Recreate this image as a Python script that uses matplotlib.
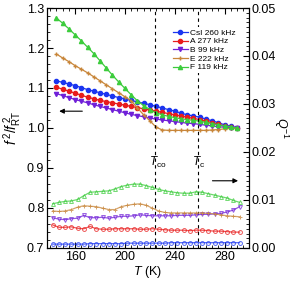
import matplotlib
matplotlib.use('Agg')
import matplotlib.pyplot as plt
from matplotlib.ticker import MultipleLocator, FormatStrFormatter

plt.rcParams['font.family'] = ['Liberation Sans', 'DejaVu Sans']
plt.rcParams['mathtext.fontset'] = 'custom'
plt.rcParams['mathtext.rm'] = 'Liberation Sans'
plt.rcParams['mathtext.it'] = 'Liberation Sans:italic'

# temperatures (K)
T_up = list(range(145, 291, 5))
T_lo = list(range(142, 293, 5))

# f^2/f_RT^2 (left axis)
ff_csi = [1.118, 1.114, 1.110, 1.106, 1.101, 1.096, 1.092, 1.088, 1.084, 1.080,
          1.076, 1.073, 1.069, 1.065, 1.062, 1.058, 1.054, 1.050, 1.046, 1.042,
          1.037, 1.033, 1.030, 1.027, 1.022, 1.018, 1.013, 1.008, 1.004, 1.001]
ff_a = [1.102, 1.097, 1.092, 1.087, 1.082, 1.077, 1.073, 1.069, 1.066, 1.063,
        1.060, 1.057, 1.054, 1.051, 1.048, 1.045, 1.042, 1.039, 1.036, 1.033,
        1.030, 1.027, 1.024, 1.021, 1.017, 1.013, 1.009, 1.005, 1.002, 1.000]
ff_b = [1.086, 1.081, 1.076, 1.071, 1.067, 1.063, 1.058, 1.054, 1.050, 1.046,
        1.042, 1.038, 1.034, 1.031, 1.028, 1.025, 1.022, 1.020, 1.018, 1.016,
        1.014, 1.012, 1.011, 1.009, 1.007, 1.005, 1.003, 1.002, 1.001, 1.000]
ff_e = [1.185, 1.175, 1.166, 1.156, 1.147, 1.138, 1.128, 1.118, 1.108, 1.098,
        1.088, 1.078, 1.068, 1.050, 1.033, 1.018, 1.002, 0.995, 0.994, 0.994,
        0.994, 0.994, 0.994, 0.994, 0.994, 0.995, 0.996, 0.998, 0.999, 1.000]
ff_f = [1.275, 1.262, 1.248, 1.233, 1.218, 1.202, 1.186, 1.168, 1.150, 1.132,
        1.115, 1.099, 1.083, 1.068, 1.056, 1.046, 1.038, 1.033, 1.029, 1.026,
        1.023, 1.021, 1.019, 1.017, 1.014, 1.011, 1.008, 1.005, 1.003, 1.000]

# Q^-1 (right axis)
q_csi = [0.0008, 0.0008, 0.0008, 0.0008, 0.0008, 0.0008, 0.0009, 0.0009, 0.0009, 0.0009,
         0.0009, 0.0009, 0.0010, 0.0010, 0.0010, 0.0010, 0.0010, 0.0010, 0.0010, 0.0011,
         0.0011, 0.0011, 0.0011, 0.0011, 0.0011, 0.0011, 0.0011, 0.0011, 0.0011, 0.0011, 0.0011]
q_a = [0.0048, 0.0043, 0.0043, 0.0044, 0.0041, 0.0040, 0.0045, 0.0040, 0.0039, 0.0039,
       0.0040, 0.0040, 0.0040, 0.0040, 0.0039, 0.0039, 0.0040, 0.0039, 0.0038, 0.0037,
       0.0037, 0.0037, 0.0036, 0.0037, 0.0037, 0.0036, 0.0035, 0.0035, 0.0034, 0.0033, 0.0033]
q_b = [0.0063, 0.0060, 0.0059, 0.0061, 0.0062, 0.0068, 0.0063, 0.0063, 0.0064, 0.0062,
       0.0064, 0.0066, 0.0066, 0.0067, 0.0069, 0.0068, 0.0067, 0.0067, 0.0067, 0.0067,
       0.0068, 0.0068, 0.0068, 0.0069, 0.0070, 0.0070, 0.0071, 0.0072, 0.0075, 0.0079, 0.0086]
q_e = [0.0077, 0.0076, 0.0077, 0.0080, 0.0085, 0.0088, 0.0087, 0.0086, 0.0083, 0.0080,
       0.0080, 0.0086, 0.0089, 0.0091, 0.0092, 0.0089, 0.0083, 0.0077, 0.0074, 0.0073,
       0.0073, 0.0073, 0.0073, 0.0073, 0.0073, 0.0072, 0.0071, 0.0069, 0.0067, 0.0066, 0.0065]
q_f = [0.0092, 0.0095, 0.0097, 0.0098, 0.0101, 0.0109, 0.0116, 0.0117, 0.0118, 0.0119,
       0.0123, 0.0128, 0.0131, 0.0133, 0.0133, 0.0130, 0.0126, 0.0122, 0.0119, 0.0117,
       0.0115, 0.0114, 0.0114, 0.0117, 0.0116, 0.0113, 0.0110, 0.0107, 0.0104, 0.0099, 0.0095]

labels = ['CsI 260 kHz', 'A 277 kHz', 'B 99 kHz', 'E 222 kHz', 'F 119 kHz']
colors = ['#1a35f0', '#e81c1c', '#7020d8', '#c8863a', '#3ccc3c']
markers = ['o', 'o', 'v', '+', '^']
T_co = 224
T_c = 259

fig = plt.figure(figsize=(2.96, 2.86), dpi=100)
ax = fig.add_axes([0.159, 0.133, 0.682, 0.839])
ax2 = ax.twinx()

ups = [ff_csi, ff_a, ff_b, ff_e, ff_f]
los = [q_csi, q_a, q_b, q_e, q_f]
for i in range(5):
    ax.plot(T_up, ups[i], color=colors[i], marker=markers[i], ms=3.0, lw=0.9,
            mew=1.0, label=labels[i])
    ax2.plot(T_lo, los[i], color=colors[i], marker=markers[i], ms=2.8, lw=0.9,
             mfc='none', mew=0.7, alpha=0.75)

ax.axvline(T_co, color='k', ls=(0, (3, 3)), lw=0.8)
ax.axvline(T_c, color='k', ls=(0, (3, 3)), lw=0.8)

ax.set_xlim(137.5, 299.5)
ax.set_ylim(0.7, 1.3)
ax2.set_ylim(0, 0.05)
ax.xaxis.set_major_locator(MultipleLocator(40))
ax.xaxis.set_minor_locator(MultipleLocator(5))
ax.yaxis.set_major_locator(MultipleLocator(0.1))
ax.yaxis.set_minor_locator(MultipleLocator(0.02))
ax.yaxis.set_major_formatter(FormatStrFormatter('%.1f'))
ax2.yaxis.set_major_locator(MultipleLocator(0.01))
ax2.yaxis.set_minor_locator(MultipleLocator(0.001))
ax2.yaxis.set_major_formatter(FormatStrFormatter('%.2f'))

ax.tick_params(which='both', direction='in', top=True, labelsize=9, pad=2)
ax.tick_params(which='major', length=4, width=0.8)
ax.tick_params(which='minor', length=2, width=0.6)
ax2.tick_params(which='both', direction='in', labelsize=9, pad=2)
ax2.tick_params(which='major', length=4, width=0.8)
ax2.tick_params(which='minor', length=2, width=0.6)

ax.set_xlabel(r'$T$ (K)', fontsize=9, labelpad=1)
ax.set_ylabel(r'$f^{\,2}/f_{\rm RT}^{\,2}$', fontsize=10, labelpad=2)
ax2.set_ylabel(r'$Q^{-1}$', fontsize=9, rotation=270, labelpad=10)

ax.text(T_co + 2.5, 0.915, r'$T_{\rm co}$', fontsize=8.5, ha='center', va='center')
ax.text(T_c, 0.915, r'$T_{\rm c}$', fontsize=8.5, ha='center', va='center')

ax.annotate('', xy=(145, 1.042), xytext=(168, 1.042),
            arrowprops=dict(arrowstyle='-|>', color='k', lw=0.8, mutation_scale=7))
ax2.annotate('', xy=(293, 0.014), xytext=(268, 0.014),
             arrowprops=dict(arrowstyle='-|>', color='k', lw=0.8, mutation_scale=7))

leg = ax.legend(loc='upper right', bbox_to_anchor=(0.955, 0.93), frameon=True, fontsize=6,
                handlelength=1.8, labelspacing=0.1, borderaxespad=0.3, handletextpad=0.3,
                borderpad=0.2, fancybox=False, framealpha=1, edgecolor='none')
leg.get_frame().set_linewidth(0)

fig.savefig('out.png', dpi=100)
